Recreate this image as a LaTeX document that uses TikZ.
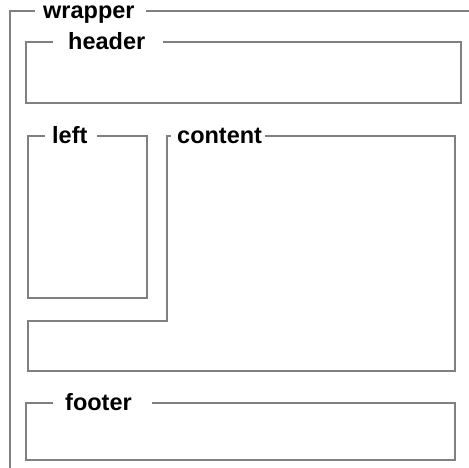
\documentclass[tikz,border=0pt]{standalone}
\usepackage{fontspec}
\setmainfont{Liberation Sans}
\begin{document}
\begin{tikzpicture}[x=1pt,y=-1pt,
  frame/.style={draw={rgb,255:red,128;green,128;blue,128},line width=2pt,line join=miter},
  legend/.style={anchor=base west,inner sep=0pt,font=\fontsize{23.5}{24}\selectfont\bfseries}]
\useasboundingbox[fill=white] (0,0) rectangle (469,467);

% wrapper: open to the right and bottom
\draw[frame] (35,11) -- (10,11) -- (10,470);
\draw[frame] (146,11) -- (472,11);
\node[legend] (wrapper) at (43,18) {wrapper};

% header
\draw[frame] (53,42) -- (26,42) -- (26,103) -- (461,103) -- (461,42) -- (163,42);
\node[legend] (header) at (68,49) {header};

% left column
\draw[frame] (45,136) -- (28,136) -- (28,298) -- (147,298) -- (147,136) -- (97,136);
\node[legend] (left) at (52,143) {left};

% content, wrapping underneath the left column
\draw[frame] (171,136) -- (167,136) -- (167,321) -- (28,321) -- (28,371)
  -- (455,371) -- (455,136) -- (265,136);
\node[legend] (content) at (177,143) {content};

% footer
\draw[frame] (53,403) -- (26,403) -- (26,460) -- (455,460) -- (455,403) -- (152,403);
\node[legend] (footer) at (65,410) {footer};
\end{tikzpicture}
\end{document}
